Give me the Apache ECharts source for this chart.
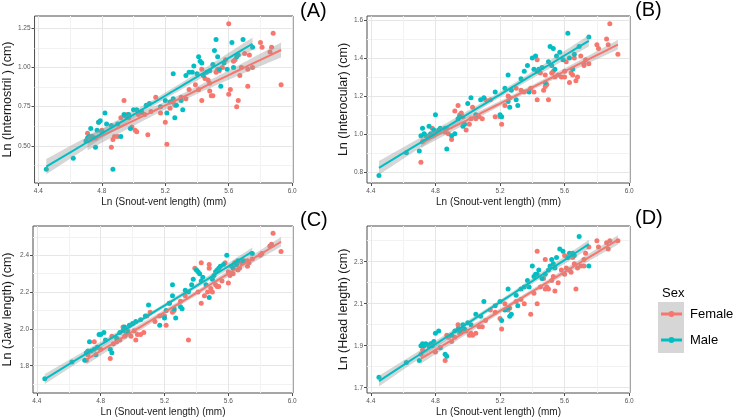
<!DOCTYPE html>
<html>
<head>
<meta charset="utf-8">
<script src="https://cdn.jsdelivr.net/npm/echarts@6/dist/echarts.min.js"></script>
<style>
html, body { margin: 0; padding: 0; background: #fff; }
#chart { width: 736px; height: 420px; }
</style>
</head>
<body>
<div id="chart"></div>
<script>
// Ln(SVL) per specimen, shared by all four panels
var femaleSVL = [4.71,4.72,4.76,4.78,4.80,4.86,4.87,4.88,4.90,4.92,4.94,4.95,4.96,4.97,4.99,5.01,5.02,5.03,5.05,5.07,
  5.09,5.11,5.14,5.17,5.20,5.21,5.23,5.25,5.26,5.30,5.33,5.35,5.39,5.41,5.43,5.43,5.45,5.47,5.48,5.48,
  5.49,5.50,5.52,5.53,5.54,5.56,5.58,5.60,5.60,5.61,5.63,5.64,5.65,5.66,5.67,5.68,5.70,5.72,5.72,5.73,
  5.75,5.80,5.81,5.86,5.87,5.88,5.93];
var maleSVL = [4.45,4.62,4.70,4.71,4.72,4.73,4.74,4.76,4.77,4.78,4.79,4.80,4.82,4.83,4.86,4.87,4.90,4.92,4.94,4.95,
  4.97,4.98,5.00,5.02,5.05,5.08,5.10,5.17,5.20,5.21,5.23,5.25,5.25,5.26,5.27,5.30,5.31,5.33,5.35,5.37,
  5.38,5.40,5.41,5.42,5.43,5.44,5.46,5.48,5.50,5.51,5.52,5.53,5.54,5.55,5.57,5.59,5.62,5.63,5.65,5.66,
  5.69,5.75];

// (A) internostril
var femaleA = [0.58,0.56,0.55,0.65,0.60,0.49,0.54,0.56,0.56,0.68,0.79,0.69,0.70,0.68,0.62,0.60,0.59,0.70,0.71,0.70,
  0.57,0.72,0.81,0.71,0.65,0.51,0.74,0.78,0.76,0.81,0.80,0.86,0.89,0.86,0.79,0.99,0.93,0.92,0.90,0.85,
  0.82,0.82,0.97,0.99,0.98,1.00,1.05,1.28,0.83,0.86,1.04,1.05,0.75,0.79,0.95,1.00,1.09,0.88,0.99,1.08,
  1.00,1.16,1.13,1.10,1.13,1.22,0.89];
var maleA = [0.35,0.42,0.53,0.55,0.56,0.61,0.56,0.49,0.60,0.65,0.66,0.59,0.71,0.64,0.63,0.35,0.64,0.56,0.70,0.69,
  0.70,0.61,0.73,0.73,0.72,0.76,0.77,0.75,0.79,0.71,0.78,0.80,0.96,0.68,0.76,0.79,0.73,0.95,0.97,0.97,
  1.01,0.96,1.07,1.04,1.03,0.95,0.97,0.98,1.02,1.11,1.18,1.07,0.99,0.88,1.03,0.99,1.16,1.00,1.07,1.08,
  1.18,1.13];

// (B) interocular
var femaleB = [0.85,0.96,0.99,1.03,1.01,1.01,1.03,1.00,0.97,1.12,1.15,1.10,1.11,1.09,1.02,1.05,1.08,1.14,1.08,1.09,
  1.08,1.18,1.18,1.09,1.09,1.05,1.15,1.20,1.19,1.24,1.23,1.22,1.24,1.22,1.18,1.39,1.32,1.23,1.25,1.31,
  1.26,1.18,1.32,1.33,1.30,1.31,1.30,1.33,1.30,1.38,1.27,1.32,1.31,1.40,1.28,1.30,1.41,1.36,1.37,1.39,
  1.37,1.47,1.45,1.50,1.47,1.58,1.42];
var maleB = [0.78,0.90,0.91,0.99,1.03,1.00,0.99,1.04,1.00,0.99,1.02,1.10,1.02,1.03,1.03,0.92,0.99,1.00,1.08,1.09,
  1.04,1.05,1.16,1.19,1.10,1.18,1.19,1.22,1.10,1.09,1.24,1.17,1.31,1.14,1.23,1.18,1.15,1.29,1.33,1.36,
  1.22,1.40,1.34,1.41,1.33,1.34,1.35,1.27,1.38,1.46,1.36,1.45,1.34,1.41,1.43,1.39,1.53,1.40,1.34,1.42,
  1.46,1.51];

// (C) jaw length
var femaleC = [1.83,1.86,1.93,1.90,1.89,1.84,1.96,1.92,1.93,1.94,2.01,1.96,1.97,1.99,1.96,1.99,1.94,1.97,1.97,1.98,
  2.07,2.09,2.04,2.07,2.07,2.02,2.14,2.09,2.10,2.15,2.18,1.94,2.33,2.20,2.14,2.36,2.18,2.20,2.33,2.35,
  2.22,2.20,2.24,2.23,2.23,2.26,2.36,2.25,2.31,2.29,2.30,2.36,2.35,2.32,2.33,2.36,2.37,2.34,2.37,2.36,
  2.38,2.40,2.41,2.45,2.46,2.52,2.42];
var maleC = [1.73,1.82,1.83,1.87,1.88,1.93,1.88,1.89,1.86,1.90,1.97,1.97,1.98,1.94,1.89,1.87,1.95,1.98,1.99,2.01,
  1.98,2.02,2.03,2.04,2.05,2.07,2.13,2.02,2.06,2.10,2.14,2.18,2.24,2.11,2.06,2.12,2.11,2.21,2.20,2.24,
  2.27,2.32,2.31,2.30,2.26,2.28,2.24,2.17,2.27,2.29,2.31,2.32,2.33,2.34,2.35,2.40,2.34,2.33,2.35,2.37,
  2.37,2.41];

// (D) head length
var femaleD = [1.86,1.88,1.90,1.91,1.87,1.83,1.95,1.94,1.92,1.94,2.00,1.96,1.97,1.98,1.97,1.95,1.96,1.95,1.96,1.99,
  1.99,2.02,2.07,2.06,2.03,1.98,2.10,2.07,2.08,2.11,2.12,2.10,2.05,2.15,2.10,2.35,2.18,2.22,2.31,2.17,
  2.18,2.17,2.21,2.23,2.16,2.20,2.26,2.24,2.33,2.27,2.26,2.25,2.32,2.29,2.17,2.27,2.28,2.31,2.28,2.34,
  2.37,2.40,2.37,2.39,2.36,2.40,2.40];
var maleD = [1.75,1.82,1.83,1.90,1.91,1.90,1.91,1.90,1.91,1.90,1.92,1.96,1.97,1.89,1.86,1.85,1.95,1.97,1.98,1.97,
  2.00,1.98,2.01,2.00,2.05,2.04,2.11,2.09,2.11,2.02,2.07,2.08,2.17,2.04,2.05,2.14,2.09,2.17,2.18,2.21,
  2.18,2.28,2.23,2.24,2.24,2.26,2.22,2.24,2.26,2.28,2.31,2.29,2.27,2.32,2.36,2.35,2.32,2.34,2.34,2.33,
  2.42,2.28];

var xTicks = [4.4, 4.8, 5.2, 5.6, 6.0];
var xMinor = [4.6, 5.0, 5.4, 5.8];
var yTicksA = [0.50, 0.75, 1.00, 1.25], yMinorA = [0.375, 0.625, 0.875, 1.125];
var yTicksB = [0.8, 1.0, 1.2, 1.4, 1.6], yMinorB = [0.9, 1.1, 1.3, 1.5];
var yTicksC = [1.8, 2.0, 2.2, 2.4], yMinorC = [1.7, 1.9, 2.1, 2.3, 2.5];
var yTicksD = [1.7, 1.9, 2.1, 2.3], yMinorD = [1.8, 2.0, 2.2, 2.4];

var FEMALE = '#F8766D', MALE = '#00BFC4';
var FONT = 'Liberation Sans, Arial, sans-serif';

var panels = [
  { tag: '(A)', title: 'Ln (Internostril ) (cm)', f: femaleA, m: maleA, ticks: yTicksA, minor: yMinorA, dec: 2,
    yMin: 0.262, yMax: 1.330, grid: { left: 32, top: 16, width: 261, height: 167 }, tagPos: [300, 1] },
  { tag: '(B)', title: 'Ln (Interocular) (cm)', f: femaleB, m: maleB, ticks: yTicksB, minor: yMinorB, dec: 1,
    yMin: 0.741, yMax: 1.621, grid: { left: 367, top: 16, width: 263, height: 167 }, tagPos: [635, 0] },
  { tag: '(C)', title: 'Ln (Jaw length) (cm)', f: femaleC, m: maleC, ticks: yTicksC, minor: yMinorC, dec: 1,
    yMin: 1.652, yMax: 2.559, grid: { left: 32, top: 226, width: 261, height: 167 }, tagPos: [300, 210] },
  { tag: '(D)', title: 'Ln (Head length) (cm)', f: femaleD, m: maleD, ticks: yTicksD, minor: yMinorD, dec: 1,
    yMin: 1.675, yMax: 2.470, grid: { left: 367, top: 226, width: 263, height: 167 }, tagPos: [635, 208] }
];

// linear fit with 95% confidence band, like geom_smooth(method = "lm")
function lmBand(xs, ys) {
  var n = xs.length, mx = 0, my = 0, sxx = 0, sxy = 0, sse = 0, i;
  for (i = 0; i < n; i++) { mx += xs[i]; my += ys[i]; }
  mx /= n; my /= n;
  for (i = 0; i < n; i++) { sxx += (xs[i] - mx) * (xs[i] - mx); sxy += (xs[i] - mx) * (ys[i] - my); }
  var b = sxy / sxx, a = my - b * mx;
  for (i = 0; i < n; i++) { var r = ys[i] - a - b * xs[i]; sse += r * r; }
  var s = Math.sqrt(sse / (n - 2)), t = 1.998;
  var ux = xs.filter(function (x, k) { return xs.indexOf(x) === k; }).sort(function (p, q) { return p - q; });
  return ux.map(function (x) {
    var yh = a + b * x, se = s * Math.sqrt(1 / n + (x - mx) * (x - mx) / sxx);
    return [x, yh, yh - t * se, yh + t * se];
  });
}

function pairs(xs, ys) {
  return xs.map(function (x, k) { return [x, ys[k]]; });
}

var grids = [], xAxes = [], yAxes = [], series = [], graphics = [];

panels.forEach(function (p, i) {
  grids.push({
    left: p.grid.left, top: p.grid.top, width: p.grid.width, height: p.grid.height,
    show: true, borderColor: '#4d4d4d', borderWidth: 1, backgroundColor: '#fff'
  });
  // main axes
  xAxes.push({
    type: 'value', gridIndex: i, min: 4.376, max: 6.005,
    name: 'Ln (Snout-vent length) (mm)', nameLocation: 'middle', nameGap: 14,
    nameTextStyle: { fontSize: 10, color: '#1a1a1a', fontFamily: FONT },
    axisLine: { show: false },
    axisTick: { show: true, length: 3, customValues: xTicks, lineStyle: { color: '#4d4d4d' } },
    axisLabel: { customValues: xTicks, fontSize: 6.5, color: '#555', margin: 5, fontFamily: FONT,
      formatter: function (v) { return v.toFixed(1); } },
    splitLine: { show: true, lineStyle: { color: '#e6e6e6', width: 1 } }
  });
  yAxes.push({
    type: 'value', gridIndex: i, min: p.yMin, max: p.yMax,
    name: p.title, nameLocation: 'middle', nameRotate: 90, nameGap: i % 2 === 0 ? 19 : 17,
    nameTextStyle: { fontSize: 12.5, color: '#1a1a1a', fontFamily: FONT },
    axisLine: { show: false },
    axisTick: { show: true, length: 3, customValues: p.ticks, lineStyle: { color: '#4d4d4d' } },
    axisLabel: { customValues: p.ticks, fontSize: 6.5, color: '#555', margin: 4, fontFamily: FONT,
      formatter: function (v) { return v.toFixed(p.dec); } },
    splitLine: { show: true, lineStyle: { color: '#e6e6e6', width: 1 } }
  });
  // minor grid axes
  xAxes.push({
    type: 'value', gridIndex: i, min: 4.376, max: 6.005,
    axisLine: { show: false }, axisLabel: { show: false },
    axisTick: { show: false, customValues: xMinor },
    splitLine: { show: true, lineStyle: { color: '#f2f2f2', width: 1 } }
  });
  yAxes.push({
    type: 'value', gridIndex: i, min: p.yMin, max: p.yMax,
    axisLine: { show: false }, axisLabel: { show: false },
    axisTick: { show: false, customValues: p.minor },
    splitLine: { show: true, lineStyle: { color: '#f2f2f2', width: 1 } }
  });

  var ax = 2 * i;
  var groups = [['Female', femaleSVL, p.f, FEMALE], ['Male', maleSVL, p.m, MALE]];
  groups.forEach(function (g) {
    series.push({
      name: g[0], type: 'scatter', xAxisIndex: ax, yAxisIndex: ax,
      data: pairs(g[1], g[2]), symbolSize: 5, z: 2,
      itemStyle: { color: g[3], opacity: 1 }, silent: true
    });
  });
  groups.forEach(function (g, gi) {
    var band = lmBand(g[1], g[2]);
    series.push({
      type: 'custom', xAxisIndex: ax, yAxisIndex: ax, z: 3 + gi * 2, silent: true,
      data: [[band[0][0], band[0][1]]],
      renderItem: function (params, api) {
        var up = band.map(function (r) { return api.coord([r[0], r[3]]); });
        var lo = band.map(function (r) { return api.coord([r[0], r[2]]); }).reverse();
        return { type: 'polygon', shape: { points: up.concat(lo) },
          style: { fill: 'rgba(153,153,153,0.4)', stroke: 'none' } };
      }
    });
    series.push({
      name: g[0], type: 'line', xAxisIndex: ax, yAxisIndex: ax, z: 4 + gi * 2, silent: true,
      data: band.map(function (r) { return [r[0], r[1]]; }),
      showSymbol: false, lineStyle: { color: g[3], width: 2 }, itemStyle: { color: g[3] }
    });
  });

  graphics.push({
    type: 'text', left: p.tagPos[0], top: p.tagPos[1],
    style: { text: p.tag, fontSize: 20, fill: '#000', fontFamily: FONT }
  });
});

// legend key background and title
graphics.push({ type: 'rect', left: 658, top: 302, shape: { width: 26, height: 51 }, style: { fill: '#d6d6d6' } });
graphics.push({ type: 'text', left: 662, top: 287, style: { text: 'Sex', fontSize: 13, fill: '#000', fontFamily: FONT } });

var chart = echarts.init(document.getElementById('chart'));
chart.setOption({
  animation: false,
  backgroundColor: '#fff',
  grid: grids,
  xAxis: xAxes,
  yAxis: yAxes,
  legend: {
    data: ['Female', 'Male'], orient: 'vertical', left: 661, top: 306, padding: 0,
    itemWidth: 21, itemHeight: 6, itemGap: 10, selectedMode: false,
    icon: 'path://M0,1.6 L21,1.6 L21,4.4 L0,4.4 Z M10.5,0 A3,3 0 1 1 10.49,0 Z',
    textStyle: { fontSize: 13, color: '#000', lineHeight: 16, fontFamily: FONT, padding: [0, 0, 0, 3] }
  },
  graphic: graphics,
  series: series
});
</script>
</body>
</html>
